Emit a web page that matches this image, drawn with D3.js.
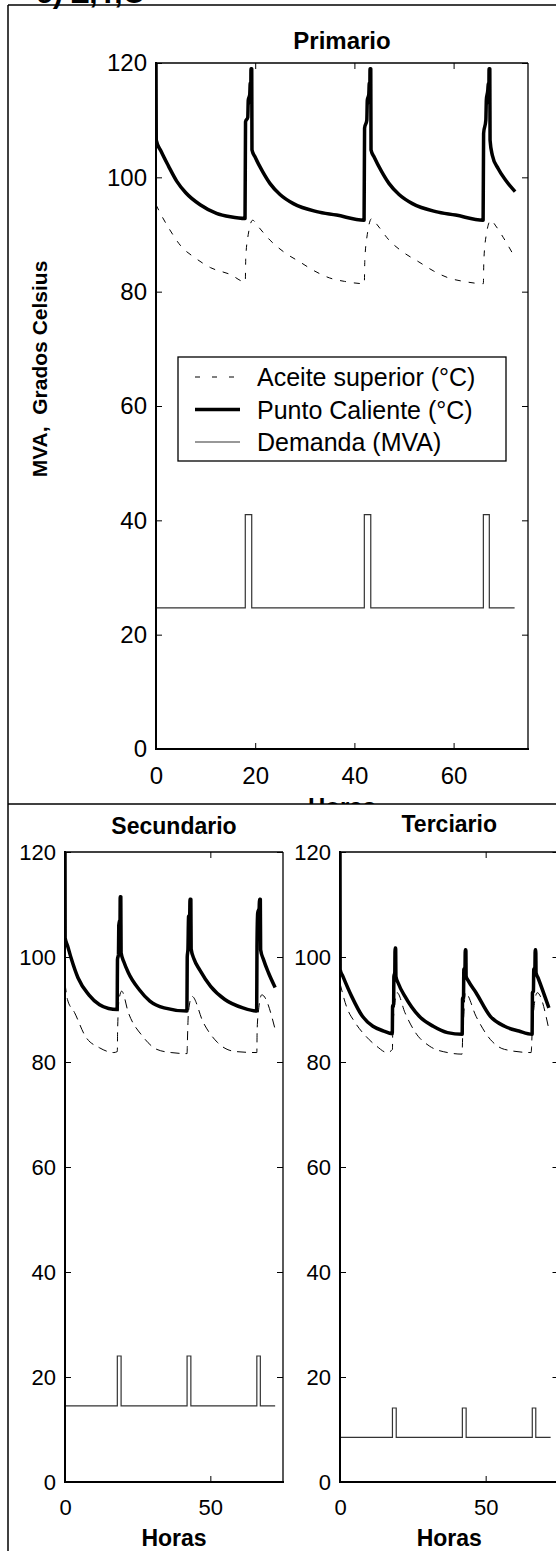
<!DOCTYPE html>
<html>
<head>
<meta charset="utf-8">
<script src="https://cdn.jsdelivr.net/npm/d3@7"></script>
<style>
  body { margin: 0; background: #fff; }
  svg { display: block; font-family: Arial, "Liberation Sans", sans-serif; }
</style>
</head>
<body>
<script>
// hours where the demand pulse starts / ends, same for the three windings
var pulseStart = [18, 42, 66];
var pulseEnd = [19.3, 43.3, 67.2];
var tEnd = 72.3;

// demand level (MVA): base and peak
var primDemand = [24.7, 41];
var secDemand = [14.5, 24];
var terDemand = [8.5, 14.1];

// hot spot (°C) [hour, value]
var primHot = [
  [0,120],[0.05,106.5],[1,104.6],[2.5,102],[4.2,99.3],[6,97.3],[8.9,95.2],[12.2,93.7],[15,93.1],[17.95,92.8],
  [18.05,109.7],[18.5,110.5],[18.6,113.5],[18.9,114.5],[19.0,116.5],[19.1,113],[19.15,119],[19.3,119],[19.35,104.8],
  [20,103.5],[21.5,101],[23,98.9],[25,97],[27.7,95.4],[32.4,94],[36.4,93.4],[41.95,92.5],
  [42.05,108.6],[42.5,110],[42.6,113.5],[42.9,114.5],[43.0,116.5],[43.1,113],[43.15,119],[43.3,119],[43.35,104.8],
  [44,103.5],[45.5,101],[47,98.9],[49,97],[51.7,95.4],[56.4,94],[60.4,93.4],[65.95,92.5],
  [66.05,107.7],[66.5,110],[66.6,113.5],[66.9,115.3],[67.0,116.5],[67.1,113],[67.15,119],[67.3,119],[67.35,106.5],
  [67.8,103.9],[69,101.5],[70.5,99.5],[72.4,97.5]
];
var secHot = [
  [0,120],[0.05,103.6],[0.85,102.2],[2.1,99.8],[4.5,96],[8.2,92.8],[11.9,90.9],[15,90.2],[17.95,90],
  [18.05,99.5],[18.4,100.5],[18.5,106],[18.8,107],[18.9,104],[19.0,111.5],[19.2,111.5],[19.3,100.8],
  [20.3,99],[21.8,97],[25.5,93.8],[29.2,91.6],[34.1,90.3],[41.95,89.7],
  [42.05,100],[42.3,101.5],[42.5,107.7],[42.9,108],[43.0,111],[43.3,111],[43.4,101.5],
  [44.4,99.6],[46.4,97.5],[50.1,94.4],[55,91.9],[61.2,90.3],[65.95,89.7],
  [66.05,102],[66.3,108.4],[66.8,109.3],[66.9,111],[67.2,111],[67.3,101.4],
  [68.3,99.5],[70,97],[72.3,94.2]
];
var terHot = [
  [0,120],[0.05,97.6],[1,96.3],[4,92.5],[7.7,88.7],[11.3,86.8],[15,85.9],[17.95,85.4],
  [18.05,90.6],[18.4,91],[18.5,96.3],[18.8,97],[18.9,101.7],[19.1,101.7],[19.2,96.3],
  [20,95],[22.3,92.5],[27.2,88.7],[32,86.8],[36.9,85.6],[41.95,85.3],
  [42.05,92],[42.4,92.5],[42.5,97.6],[42.9,98],[43.0,101.4],[43.2,101.4],[43.3,96.3],
  [44,95.5],[46.7,93.2],[51.6,88.7],[56.5,86.8],[61.4,85.9],[65.95,85.3],
  [66.05,93.2],[66.4,93.5],[66.5,97.6],[66.9,98],[67.0,101.4],[67.2,101.4],[67.3,97],
  [68,96],[71.7,90.3]
];

// top oil (°C) [hour, value]
var primOil = [
  [0,95.2],[1,93.5],[2.8,90.8],[5,88],[7.9,85.9],[11,84.2],[15,83],[18,81.7],
  [18.1,86],[18.6,90],[19.5,92.5],[20.5,91.5],[23,89],[26,86.8],[29,85.2],[32,83.6],[35,82.4],[38,81.8],[42,81.4],
  [42.1,85.5],[42.6,90],[43.5,92.8],[44.5,91.8],[47,89],[50,86.8],[53,85.2],[56,83.6],[59,82.4],[62,81.8],[66,81.4],
  [66.1,85.5],[66.6,90],[67.5,92.5],[68.5,91.5],[70,89.5],[72.4,85.9]
];
var secOil = [
  [0,95],[0.85,91.9],[3.3,89.4],[7,84.9],[11.9,82.7],[16.8,81.8],[18,82],
  [18.1,86],[18.6,91.9],[19.5,93.5],[21.8,89.4],[26.7,84.9],[31.6,82.4],[36.5,81.8],[42,81.6],
  [42.1,83.7],[42.5,89.7],[43.7,92.5],[47.6,87.5],[52.5,83.7],[58.6,82],[66,81.8],
  [66.1,86],[66.5,89.4],[67.7,92.8],[72.3,86.2]
];
var terOil = [
  [0,95],[2.2,90.6],[5.2,87.5],[8.9,84.9],[12.6,83],[16.2,81.8],[18,82.4],
  [18.1,86],[18.5,89.4],[19.6,93.2],[22.3,89.4],[25.9,85.6],[30.8,83],[36.9,81.8],[41.9,81.5],
  [42.1,84.9],[42.5,89],[43,93.2],[46.7,88.7],[51.6,84.3],[56.5,82.4],[65.6,81.8],
  [66.1,87.5],[67.7,93.2],[71.7,86.2]
];

var yTickVals = [0, 20, 40, 60, 80, 100, 120];
var xTicksTop = [0, 20, 40, 60];
var xTicksBottom = [0, 50];
var legendLabels = ["Aceite superior (°C)", "Punto Caliente (°C)", "Demanda (MVA)"];

var width = 556, height = 1551;
var svg = d3.select("body").append("svg")
    .attr("width", width)
    .attr("height", height);

// demand as a step line built from the pulse arrays
function demandSteps(level) {
  var pts = [[0, level[0]]];
  pulseStart.forEach(function(s, i) {
    pts.push([s, level[0]], [s, level[1]], [pulseEnd[i], level[1]], [pulseEnd[i], level[0]]);
  });
  pts.push([tEnd, level[0]]);
  return pts;
}

var clipId = 0;
function panel(p) {
  var x = d3.scaleLinear().domain([0, 75]).range([p.left, p.right]);
  var y = d3.scaleLinear().domain([0, 120]).range([p.bottom, p.top]);
  var g = svg.append("g");

  var id = "clip" + (clipId++);
  g.append("clipPath").attr("id", id).append("rect")
      .attr("x", p.left).attr("y", p.top)
      .attr("width", p.right - p.left).attr("height", p.bottom - p.top);

  var line = d3.line().x(function(d) { return x(d[0]); }).y(function(d) { return y(d[1]); });
  var smooth = d3.line().x(function(d) { return x(d[0]); }).y(function(d) { return y(d[1]); })
      .curve(d3.curveMonotoneX);
  var lines = g.append("g").attr("clip-path", "url(#" + id + ")");
  lines.append("path").attr("d", line(demandSteps(p.demand)))
      .attr("fill", "none").attr("stroke", "#333").attr("stroke-width", 1.2);
  lines.append("path").attr("d", smooth(p.oil))
      .attr("fill", "none").attr("stroke", "#000").attr("stroke-width", 1)
      .attr("stroke-dasharray", p.dash);
  lines.append("path").attr("d", smooth(p.hot))
      .attr("fill", "none").attr("stroke", "#000").attr("stroke-width", 3.5)
      .attr("stroke-linejoin", "round");

  var fs = p.fontSize + "px";
  var left = g.append("g").attr("transform", "translate(" + p.left + ",0)")
      .call(d3.axisLeft(y).tickValues(yTickVals).tickSize(-6).tickPadding(9));
  var right = g.append("g").attr("transform", "translate(" + p.right + ",0)")
      .call(d3.axisRight(y).tickValues(yTickVals).tickSize(-6).tickFormat(""));
  var bottom = g.append("g").attr("transform", "translate(0," + p.bottom + ")")
      .call(d3.axisBottom(x).tickValues(p.xTicks).tickSize(-6).tickPadding(p.xPad));
  var top = g.append("g").attr("transform", "translate(0," + p.top + ")")
      .call(d3.axisTop(x).tickValues(p.xTicks).tickSize(-6).tickFormat(""));
  [left, right, bottom, top].forEach(function(a) {
    a.select(".domain").remove();
    a.selectAll("text").attr("font-size", fs).attr("font-family", null);
  });

  // box
  g.append("line").attr("x1", p.left).attr("x2", p.right).attr("y1", p.top).attr("y2", p.top)
      .attr("stroke", "#000").attr("stroke-width", 1.3);
  g.append("line").attr("x1", p.right).attr("x2", p.right).attr("y1", p.top).attr("y2", p.bottom)
      .attr("stroke", "#000").attr("stroke-width", 1.3);
  g.append("line").attr("x1", p.left).attr("x2", p.right + 1).attr("y1", p.bottom).attr("y2", p.bottom)
      .attr("stroke", "#000").attr("stroke-width", 2);
  g.append("line").attr("x1", p.left).attr("x2", p.left).attr("y1", p.top - 1).attr("y2", p.bottom + 1)
      .attr("stroke", "#000").attr("stroke-width", 2);

  g.append("text").attr("x", (p.left + p.right) / 2).attr("y", p.titleY)
      .attr("text-anchor", "middle").attr("font-weight", "bold")
      .attr("font-size", p.titleSize + "px").text(p.title);
  g.append("text").attr("x", (p.left + p.right) / 2).attr("y", p.labelY)
      .attr("text-anchor", "middle").attr("font-weight", "bold")
      .attr("font-size", p.titleSize + "px").text("Horas");
  return { x: x, y: y };
}

// cut off heading at the very top
svg.append("text").attr("x", 36).attr("y", 3)
    .attr("font-size", "30px").attr("font-weight", "bold").text("c) Z,Y,C");

// top panel
panel({ left: 156, right: 528, top: 63, bottom: 749, xTicks: xTicksTop, xPad: 18,
        fontSize: 24, titleSize: 24, title: "Primario", titleY: 49, labelY: 815,
        hot: primHot, oil: primOil, demand: primDemand, dash: "6,8" });

svg.append("text")
    .attr("transform", "translate(47,369) rotate(-90)")
    .attr("text-anchor", "middle").attr("font-weight", "bold")
    .attr("font-size", "21px").style("white-space", "pre")
    .text("MVA,  Grados Celsius");

// legend
var lg = svg.append("g");
lg.append("rect").attr("x", 178).attr("y", 357).attr("width", 328).attr("height", 104)
    .attr("fill", "#fff").attr("stroke", "#000").attr("stroke-width", 1.3);
var rowY = [377, 409.5, 442];
var legStyle = [
  { w: 1, dash: "5,12", c: "#000" },
  { w: 3.5, dash: null, c: "#000" },
  { w: 1.2, dash: null, c: "#333" }
];
legendLabels.forEach(function(t, i) {
  lg.append("line").attr("x1", 195).attr("x2", 240).attr("y1", rowY[i]).attr("y2", rowY[i])
      .attr("stroke", legStyle[i].c).attr("stroke-width", legStyle[i].w)
      .attr("stroke-dasharray", legStyle[i].dash);
  lg.append("text").attr("x", 257).attr("y", rowY[i] + 9).attr("font-size", "25px").text(t);
});

// lower figure pasted over the top one
svg.append("rect").attr("x", 9).attr("y", 804).attr("width", width - 9).attr("height", height - 804)
    .attr("fill", "#fff");

panel({ left: 65, right: 283, top: 852, bottom: 1482, xTicks: xTicksBottom, xPad: 17,
        fontSize: 22, titleSize: 23, title: "Secundario", titleY: 834, labelY: 1546,
        hot: secHot, oil: secOil, demand: secDemand, dash: "9,6" });
panel({ left: 340, right: 558.5, top: 852, bottom: 1482, xTicks: xTicksBottom, xPad: 17,
        fontSize: 22, titleSize: 23, title: "Terciario", titleY: 832, labelY: 1546,
        hot: terHot, oil: terOil, demand: terDemand, dash: "9,6" });

// frame lines
svg.append("line").attr("x1", 8).attr("x2", 8).attr("y1", 5).attr("y2", height)
    .attr("stroke", "#000").attr("stroke-width", 1.5);
svg.append("line").attr("x1", 8).attr("x2", width).attr("y1", 5).attr("y2", 5)
    .attr("stroke", "#000").attr("stroke-width", 1.5);
svg.append("line").attr("x1", 8).attr("x2", width).attr("y1", 804).attr("y2", 804)
    .attr("stroke", "#000").attr("stroke-width", 1.5);
</script>
</body>
</html>
